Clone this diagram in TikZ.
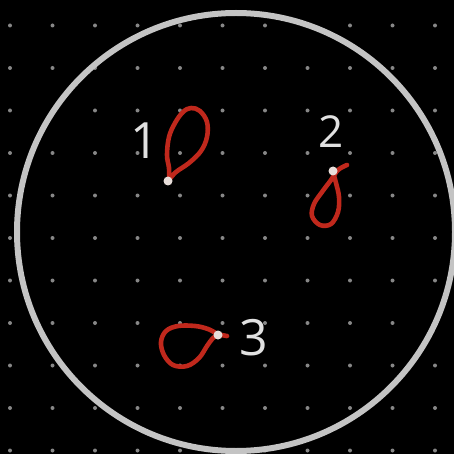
\documentclass[tikz,border=0pt]{standalone}
\usepackage{fontspec}
\setmainfont{Open Sans}
\definecolor{bgblack}{RGB}{0,0,0}
\definecolor{griddot}{RGB}{135,135,135}
\definecolor{chalk}{RGB}{196,196,196}
\definecolor{inkred}{RGB}{192,40,28}
\definecolor{penwhite}{RGB}{232,222,218}
\definecolor{labelwhite}{RGB}{225,225,225}
\tikzset{
  gdot/.style={circle,fill=griddot,inner sep=0pt,minimum size=4pt},
  loopline/.style={draw=inkred,line width=4.6pt,line cap=round,line join=round},
  enddot/.style={circle,fill=penwhite,inner sep=0pt,minimum size=9pt},
  numlabel/.style={text=labelwhite,font=\fontsize{50}{50}\selectfont,inner sep=0pt}
}
\begin{document}
\begin{tikzpicture}[x=1pt,y=-1pt]
\fill[bgblack] (0,0) rectangle (454,454);
\useasboundingbox (0,0) rectangle (454,454);
% grid of dots
\foreach \i in {0,...,10}{
  \foreach \j in {0,...,10}{
    \node[gdot] (g-\i-\j) at ({10+42.5*\i},{25.5+42.5*\j}) {};
  }
}
% big circle
\node[draw=chalk,line width=6pt,circle,minimum size=438pt,inner sep=0pt] (ring) at (236,232) {};
% loop 1
\draw[loopline] plot[smooth,tension=0.6] coordinates {(169,178) (169,168) (167,155) (169,137) (175,123) (183,112) (191,108) (200,111) (207,122) (207,137) (201,151) (189,163) (176,172) (169,180)};
\node[enddot] (d1) at (168,181) {};
% loop 2
\draw[loopline] plot[smooth,tension=0.6] coordinates {(347,165) (338,170) (331,180) (322,192) (314,204) (312,216) (320,225) (331,224) (338,212) (339,197) (336,183) (333,172)};
\node[enddot] (d2) at (333,171) {};
% loop 3
\draw[loopline] plot[smooth,tension=0.6] coordinates {(227,336) (218,334) (208,329) (195,326) (178,326) (166,331) (161,342) (164,355) (173,365) (187,366) (199,358) (207,346) (213,338) (218,335)};
\node[enddot] (d3) at (218,335) {};
% labels
\node[numlabel] (l1) at (145,141) {1};
\node[numlabel,font=\fontsize{44}{44}\selectfont] (l2) at (331,132) {2};
\node[numlabel] (l3) at (254,338) {3};
\end{tikzpicture}
\end{document}
